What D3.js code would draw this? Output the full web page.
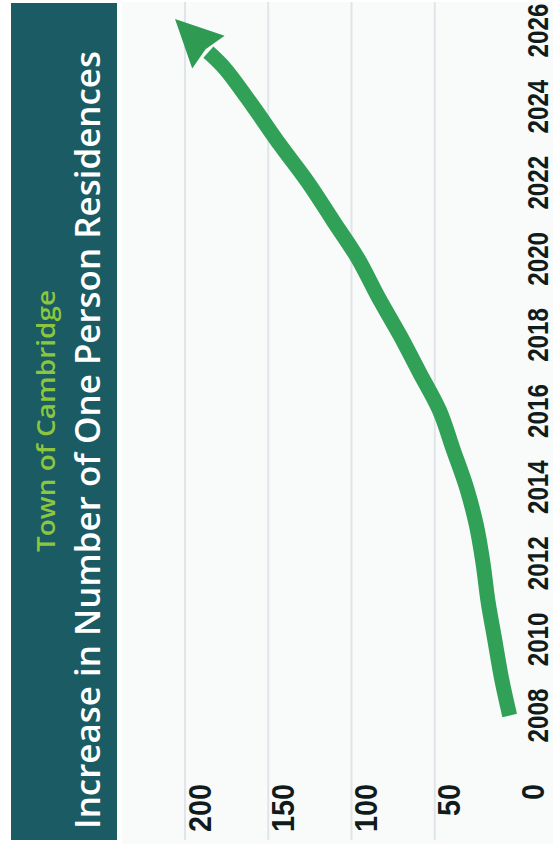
<!DOCTYPE html>
<html>
<head>
<meta charset="utf-8">
<script src="https://cdn.jsdelivr.net/npm/d3@7"></script>
<style>
  html, body { margin: 0; padding: 0; background: #ffffff; }
  svg { display: block; }
</style>
</head>
<body>
<svg id="chart" width="555" height="852"></svg>
<script>
// Yearly increase in one-person residences, Town of Cambridge
const years  = [2008, 2009, 2010, 2011, 2012, 2013, 2014, 2015, 2016, 2017, 2018, 2019, 2020, 2021, 2022, 2023, 2024, 2025];
const values = [5, 10, 14, 18, 21, 25, 31, 39, 47, 59, 71, 84, 96, 111, 126, 143, 159, 176];

// Where the projection arrow points to
const arrowTipYear  = 2026.3;
const arrowTipValue = 206;

const yearTicks  = [2008, 2010, 2012, 2014, 2016, 2018, 2020, 2022, 2024, 2026];
const valueTicks = [0, 50, 100, 150, 200];

const titleText    = "Increase in Number of One Person Residences";
const subtitleText = "Town of Cambridge";

const svg = d3.select("#chart");
const W = 852, H = 555;   // chart laid out landscape, then turned on its side

const g = svg.append("g").attr("transform", `translate(0,${W}) rotate(-90)`);

const x = d3.scaleLinear().domain([2008, 2026]).range([136.5, 821.5]);
const y = d3.scaleLinear().domain([0, 200]).range([518, 185]);

// plot background
g.append("rect")
  .attr("x", 8).attr("y", 122).attr("width", W - 10).attr("height", H - 124)
  .attr("fill", "#f9fbfb");

// header banner
g.append("rect")
  .attr("x", 12).attr("y", 11).attr("width", 837).attr("height", 106)
  .attr("fill", "#1a5b64");

g.append("text")
  .attr("x", 431).attr("y", 55)
  .attr("text-anchor", "middle")
  .attr("font-family", "'Open Sans', 'Noto Sans', sans-serif")
  .attr("font-weight", 600)
  .attr("font-size", 25)
  .attr("fill", "#8cc63f")
  .attr("textLength", 262).attr("lengthAdjust", "spacingAndGlyphs")
  .text(subtitleText);

g.append("text")
  .attr("x", 412).attr("y", 100)
  .attr("text-anchor", "middle")
  .attr("font-family", "'Open Sans', 'Noto Sans', sans-serif")
  .attr("font-weight", 600)
  .attr("font-size", 34)
  .attr("fill", "#ffffff")
  .attr("textLength", 778).attr("lengthAdjust", "spacingAndGlyphs")
  .text(titleText);

// horizontal gridlines
g.append("g").selectAll("line")
  .data(valueTicks.filter(v => v > 0))
  .join("line")
  .attr("x1", 12).attr("x2", 850)
  .attr("y1", d => y(d)).attr("y2", d => y(d))
  .attr("stroke", "#dfe5e8").attr("stroke-width", 2);

// value labels
g.append("g").selectAll("text")
  .data(valueTicks)
  .join("text")
  .attr("transform", d => `translate(68,${y(d) + 14}) scale(0.9,1)`)
  .attr("text-anchor", "end")
  .attr("dominant-baseline", "central")
  .attr("font-family", "'Liberation Sans', Arial, sans-serif")
  .attr("font-weight", "bold")
  .attr("font-size", 32)
  .attr("fill", "#101c1b")
  .text(d => d);

// year labels
g.append("g").selectAll("text")
  .data(yearTicks)
  .join("text")
  .attr("transform", d => `translate(${x(d)},548) scale(0.82,1)`)
  .attr("text-anchor", "middle")
  .attr("font-family", "'Liberation Sans', Arial, sans-serif")
  .attr("font-weight", "bold")
  .attr("font-size", 29.5)
  .attr("fill", "#101c1b")
  .text(d => d);

// trend line with arrowhead
const pts = years.map((yr, i) => [x(yr), y(values[i])]);
const tip = [x(arrowTipYear), y(arrowTipValue)];
const last = pts[pts.length - 1];
const dx = tip[0] - last[0], dy = tip[1] - last[1];
const len = Math.hypot(dx, dy);
const ux = dx / len, uy = dy / len;
const headLen = 47, headHalf = 23;
const base = [tip[0] - ux * headLen, tip[1] - uy * headLen];

const lineGen = d3.line().curve(d3.curveCatmullRom.alpha(0.5));
const green = "#31a157";

g.append("path")
  .attr("d", lineGen(pts.concat([base])))
  .attr("fill", "none")
  .attr("stroke", green)
  .attr("stroke-width", 15)
  .attr("stroke-linejoin", "round")
  .attr("stroke-linecap", "butt");

const px = -uy, py = ux;
g.append("path")
  .attr("d", d3.line()([
    tip,
    [base[0] + px * headHalf, base[1] + py * headHalf],
    [base[0] + ux * 4, base[1] + uy * 4],
    [base[0] - px * headHalf, base[1] - py * headHalf]
  ]) + "Z")
  .attr("fill", "#2e9a52");
</script>
</body>
</html>
